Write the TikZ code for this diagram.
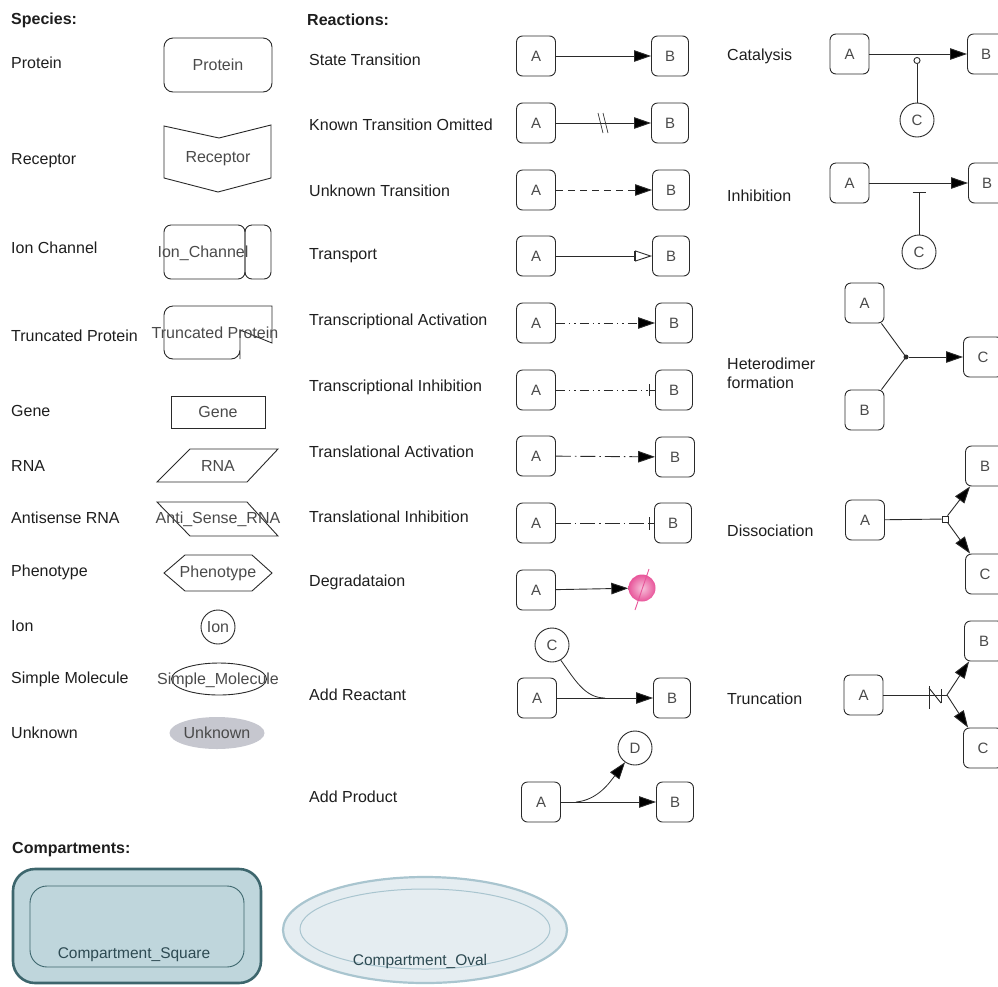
\documentclass[tikz,border=0pt]{standalone}
\usepackage{fontspec}
\setmainfont{Liberation Sans}
\usetikzlibrary{arrows.meta,shapes.geometric}
\definecolor{ink}{HTML}{1E1E1E}
\definecolor{shapetext}{HTML}{4A4A4A}
\definecolor{edge}{HTML}{2A2A2A}
\definecolor{unkfill}{HTML}{C6C7CF}
\definecolor{degpink}{HTML}{E8559A}
\definecolor{sqborder}{HTML}{3D666D}
\definecolor{sqfill}{HTML}{BFD6DC}
\definecolor{sqtext}{HTML}{2D4A52}
\definecolor{ovborder}{HTML}{A9C5CF}
\definecolor{ovfill}{HTML}{E5EDF1}
\begin{document}
\begin{tikzpicture}[x=1pt,y=-1pt,
  every node/.style={inner sep=0pt},
  head/.style={anchor=west,font=\fontsize{16}{19}\selectfont\bfseries,text=ink},
  lbl/.style={anchor=west,font=\fontsize{16}{19}\selectfont,text=ink},
  stext/.style={font=\fontsize{16}{19}\selectfont,text=shapetext},
  line/.style={draw=edge,line width=0.9pt},
  rbox/.style={line,rounded corners=6pt,minimum width=39pt,minimum height=40pt,
    font=\fontsize{15}{18}\selectfont,text=shapetext},
  bbox/.style={rbox,minimum width=37pt},
  smallc/.style={line,circle,minimum size=34pt,font=\fontsize{15}{18}\selectfont,text=shapetext},
  conv/.style={line,-{Triangle[length=17pt,width=11.5pt,fill=black]}},
  tbar/.style={line,-{Bar[width=13pt]}},
]
\useasboundingbox (0,0) rectangle (998,986);

% ---------------- headers ----------------
\node[head] (hsp) at (11,20) {Species:};
\node[head] (hre) at (307,20) {Reactions:};
\node[head] (hco) at (12,850) {Compartments:};

% ---------------- species ----------------
\node[lbl] (lprot) at (11,63) {Protein};
\node[lbl] (lrec) at (11,161) {Receptor};
\node[lbl] (lion) at (11,248) {Ion Channel};
\node[lbl] (ltru) at (11,336) {Truncated Protein};
\node[lbl] (lgene) at (11,411) {Gene};
\node[lbl] (lrna) at (11,466) {RNA};
\node[lbl] (lasr) at (11,518) {Antisense RNA};
\node[lbl] (lphe) at (11,572) {Phenotype};
\node[lbl] (lionx) at (11,626) {Ion};
\node[lbl] (lsm) at (11,679) {Simple Molecule};
\node[lbl] (lunk) at (11,733) {Unknown};

% protein
\node[line,rounded corners=9pt,minimum width=108pt,minimum height=54pt,stext] (protein) at (218,65) {Protein};
% receptor
\draw[line] (164,126) -- (219,138) -- (271,125) -- (271,178) -- (218,192) -- (164,178) -- cycle;
\node[stext] (receptor) at (218,159) {Receptor};
% ion channel
\draw[line,rounded corners=7pt] (164,225) rectangle (245,279);
\draw[line,rounded corners=7pt] (245,225) rectangle (271,279);
\node[stext] (ionch) at (203,253) {Ion\_Channel};
% truncated protein
\draw[line] (272,343) -- (272,306) [rounded corners=9pt] -- (164,306) -- (164,359) -- (240,359) [sharp corners] -- (240,359) -- (240,330) -- cycle;
\node[stext] (trunc) at (215,333) {Truncated Protein};
% gene
\node[line,minimum width=94pt,minimum height=32pt,stext] (gene) at (218,412) {Gene};
% RNA
\draw[line] (190,449) -- (278,449) -- (247,482) -- (157,482) -- cycle;
\node[stext] (rna) at (218,466) {RNA};
% antisense RNA
\draw[line] (157,502) -- (247,502) -- (278,536) -- (190,536) -- cycle;
\node[stext] (asrna) at (218,519) {Anti\_Sense\_RNA};
% phenotype
\draw[line] (164,573) -- (185,555) -- (252,555) -- (272,573) -- (252,591) -- (185,591) -- cycle;
\node[stext] (pheno) at (218,573) {Phenotype};
% ion
\node[line,circle,minimum size=34pt,stext] (ion) at (218,627) {Ion};
% simple molecule
\node[line,ellipse,minimum width=95pt,minimum height=32pt] (smol) at (219,679) {};
\node[stext] (smtext) at (218,680) {Simple\_Molecule};
% unknown
\node[ellipse,fill=unkfill,minimum width=95pt,minimum height=32pt,stext] (unk) at (217,733) {Unknown};

% ---------------- reactions (middle column) ----------------
\node[lbl] (r1) at (309,60) {State Transition};
\node[lbl] (r2) at (309,125) {Known Transition Omitted};
\node[lbl] (r3) at (309,191) {Unknown Transition};
\node[lbl] (r4) at (309,256) {Transport};
\node[lbl] (r5) at (309,321) {Transcriptional Activation};
\node[lbl] (r6) at (309,387) {Transcriptional Inhibition};
\node[lbl] (r7) at (309,452) {Translational Activation};
\node[lbl] (r8) at (309,517) {Translational Inhibition};
\node[lbl] (r9) at (309,582) {Degradataion};
\node[lbl] (r10) at (309,695) {Add Reactant};
\node[lbl] (r11) at (309,797) {Add Product};

% state transition
\node[rbox] (a1) at (536,56) {A};
\node[bbox] (b1) at (670,56) {B};
\draw[conv] (a1) -- (b1);
% known transition omitted
\node[rbox] (a2) at (536,123) {A};
\node[bbox] (b2) at (670,123) {B};
\draw[conv] (a2) -- (b2);
\coordinate (ko1) at (598,113);
\coordinate (ko2) at (603,113);
\draw[line,line width=0.7pt] (ko1) -- ++(5,20);
\draw[line,line width=0.7pt] (ko2) -- ++(5,20);
% unknown transition
\node[rbox] (a3) at (536,190) {A};
\node[bbox] (b3) at (671,190) {B};
\draw[conv,dash pattern=on 7pt off 5pt] (a3) -- (b3);
% transport
\node[rbox] (a4) at (536,256) {A};
\node[bbox] (b4) at (671,256) {B};
\draw[line,-{Triangle[open,length=17pt,width=11pt]}] (a4) -- (b4);
\draw[line,line width=0.8pt] (634,251) -- (634,261);
% transcriptional activation
\node[rbox] (a5) at (536,323) {A};
\node[bbox] (b5) at (674,323) {B};
\draw[conv,dash pattern=on 9pt off 4pt on 1.5pt off 4pt on 1.5pt off 4pt] (a5) -- (b5);
% transcriptional inhibition
\node[rbox] (a6) at (536,390) {A};
\node[bbox] (b6) at (674,390) {B};
\coordinate (ti) at (649,390);
\draw[line,dash pattern=on 9pt off 4pt on 1.5pt off 4pt on 1.5pt off 4pt] (a6) -- (ti);
\draw[line] (ti) -- (b6);
\draw[line] (649,384) -- (649,396);
% translational activation
\node[rbox] (a7) at (536,456) {A};
\node[bbox,minimum width=39pt] (b7) at (675,457) {B};
\draw[conv,dash pattern=on 15pt off 4pt on 1.5pt off 4pt] (a7) -- (b7);
% translational inhibition
\node[rbox] (a8) at (536,523) {A};
\node[bbox] (b8) at (673,523) {B};
\coordinate (tl) at (649,523);
\draw[line,dash pattern=on 15pt off 4pt on 1.5pt off 4pt] (a8) -- (tl);
\draw[line] (tl) -- (b8);
\draw[line] (649,517) -- (649,530);
% degradation
\node[rbox] (a9) at (536,590) {A};
\node[circle,minimum size=27pt,shading=radial,inner color=degpink!35,outer color=degpink] (deg) at (642,588) {};
\draw[conv] (a9) -- (deg);
\draw[degpink,line width=0.9pt] (649,569) -- (635,610);
% add reactant
\node[rbox] (a10) at (537,698) {A};
\node[bbox] (b10) at (672,698) {B};
\node[smallc] (c10) at (552,645) {C};
\coordinate (ar) at (605,698);
\draw[conv] (a10) -- (b10);
\draw[line,line width=0.8pt] (c10.-60) .. controls (575,680) and (585,698) .. (ar);
% add product
\node[rbox] (a11) at (541,802) {A};
\node[bbox] (b11) at (675,802) {B};
\node[smallc] (d11) at (635,748) {D};
\coordinate (ap) at (576,802);
\draw[conv] (a11) -- (b11);
\draw[conv,line width=0.8pt] (ap) .. controls (598,800) and (610,782) .. (d11.-125);

% ---------------- reactions (right column) ----------------
\node[lbl] (r12) at (727,56) {Catalysis};
\node[lbl] (r13) at (727,196) {Inhibition};
\node[lbl,align=left] (r14) at (727,373) {Heterodimer\\formation};
\node[lbl] (r15) at (727,531) {Dissociation};
\node[lbl] (r16) at (727,699) {Truncation};

% catalysis
\node[rbox] (ca) at (849.5,54) {A};
\node[bbox] (cb) at (986,54) {B};
\node[smallc] (cc) at (917,120) {C};
\coordinate (cat) at (917,57);
\draw[conv] (ca) -- (cb);
\draw[line,-{Circle[open,length=7pt]}] (cc) -- (cat);
% inhibition
\node[rbox] (ia) at (849.5,183) {A};
\node[bbox] (ib) at (987,183) {B};
\node[smallc] (ic) at (919,252) {C};
\coordinate (inh) at (919,192);
\draw[conv] (ia) -- (ib);
\draw[tbar] (ic) -- (inh);
% heterodimer formation
\node[rbox] (ha) at (864.5,303) {A};
\node[rbox] (hb) at (864.5,410) {B};
\node[rbox] (hc) at (983,357) {C};
\node[circle,fill=edge,minimum size=5pt] (hj) at (906,357) {};
\draw[line] ([xshift=-3pt]ha.south east) -- (hj.center);
\draw[line] ([xshift=-3pt]hb.north east) -- (hj.center);
\draw[conv] (hj) -- (hc);
% dissociation
\node[rbox] (da) at (865,520) {A};
\node[rbox] (db) at (985,466) {B};
\node[rbox] (dc) at (985,574) {C};
\node[draw=edge,fill=white,line width=0.7pt,minimum size=6pt] (dj) at (945,519) {};
\draw[line] (da) -- (dj);
\draw[conv] (dj) -- ([xshift=5pt]db.south west);
\draw[conv] (dj) -- ([xshift=5pt]dc.north west);
% truncation
\node[rbox] (ta) at (863.5,695) {A};
\node[rbox] (tb) at (984,641) {B};
\node[rbox] (tc) at (983,748) {C};
\coordinate (tj) at (947,695);
\draw[line] (ta) -- (tj);
\draw[line] (929,686) -- (929,709);
\draw[line] (929,688) -- (941,703);
\draw[line] (941,689) -- (941,703);
\draw[conv] (tj) -- ([xshift=5pt]tb.south west);
\draw[conv] (tj) -- ([xshift=5pt]tc.north west);

% ---------------- compartments ----------------
\node[draw=sqborder,fill=sqfill,line width=2.6pt,rounded corners=22pt,
  minimum width=248pt,minimum height=114pt] (csq) at (137,926) {};
\node[draw=sqborder,line width=0.9pt,rounded corners=17pt,
  minimum width=214pt,minimum height=81pt] (csqin) at (137,926.5) {};
\node[font=\fontsize{15.5}{18}\selectfont,text=sqtext] (csqt) at (134,955) {Compartment\_Square};
\node[ellipse,draw=ovborder,fill=ovfill,line width=2.2pt,
  minimum width=284pt,minimum height=106pt] (cov) at (425,930) {};
\node[ellipse,draw=ovborder,line width=1pt,
  minimum width=250pt,minimum height=80pt] (covin) at (425,929) {};
\node[font=\fontsize{15.5}{18}\selectfont,text=sqtext] (covt) at (420,961) {Compartment\_Oval};
\end{tikzpicture}
\end{document}
